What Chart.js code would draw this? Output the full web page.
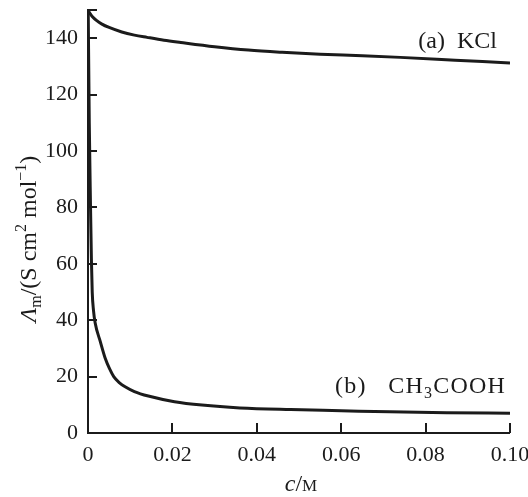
<!DOCTYPE html>
<html><head><meta charset="utf-8">
<script src="https://cdn.jsdelivr.net/npm/chart.js@4"></script>
<style>html,body{margin:0;padding:0;background:#fff}#c{display:block}</style>
</head><body>
<canvas id="c" width="528" height="497"></canvas>
<script>
// Data
const kclConc = [0, 0.0005, 0.001, 0.002, 0.0033, 0.005, 0.008, 0.011, 0.014, 0.018, 0.022, 0.030, 0.038, 0.046, 0.055, 0.065, 0.074, 0.087, 0.100];
const kclMolarCond = [150, 148.7, 147.7, 146.3, 145.0, 143.8, 142.2, 141.1, 140.3, 139.3, 138.5, 137.0, 135.8, 135.0, 134.3, 133.8, 133.2, 132.2, 131.2];
const aceticConc = [0.00005, 0.0003, 0.0006, 0.0008, 0.001, 0.0013, 0.0017, 0.0029, 0.0041, 0.0051, 0.0061, 0.0074, 0.0088, 0.011, 0.0143, 0.0205, 0.027, 0.036, 0.048, 0.06, 0.0715, 0.085, 0.100];
const aceticMolarCond = [150, 110, 80, 62, 50, 43.5, 39, 32.5, 26.4, 22.8, 20, 17.9, 16.4, 14.7, 13.1, 11.1, 9.9, 8.9, 8.3, 7.9, 7.5, 7.2, 7.0];
const xTickValues = [0, 0.02, 0.04, 0.06, 0.08, 0.10];
const xTickLabels = ['0', '0.02', '0.04', '0.06', '0.08', '0.10'];
const yTickValues = [0, 20, 40, 60, 80, 100, 120, 140, 150];
const yTickLabels = ['0', '20', '40', '60', '80', '100', '120', '140', ''];

const INK = '#1b1b1b';
const SERIF = "'Liberation Serif', 'Times New Roman', serif";

function drawRich(ctx, segs, x, y, align) {
  let total = 0;
  segs.forEach(s => { ctx.font = s.font; s.w = ctx.measureText(s.t).width; total += s.w; });
  let cx = align === 'right' ? x - total : align === 'center' ? x - total / 2 : x;
  segs.forEach(s => { ctx.font = s.font; ctx.fillText(s.t, cx, y + (s.dy || 0)); cx += s.w; });
}

const decor = {
  id: 'decor',
  afterDraw(chart) {
    const ctx = chart.ctx;
    const area = chart.chartArea;
    const left = area.left, right = area.right, bottom = area.bottom;
    const xs = chart.scales.x, ys = chart.scales.y;
    ctx.save();
    ctx.fillStyle = INK;
    const x1 = Math.round(xs.getPixelForValue(0.1));
    const y150 = Math.round(ys.getPixelForValue(150));
    const lx = Math.round(left), by = Math.round(bottom);
    // axes
    ctx.fillRect(lx - 1, y150 - 1, 2, by - y150 + 2);
    ctx.fillRect(lx - 1, by - 1, x1 - lx + 1, 2);
    // inward tick marks
    for (let i = 1; i < yTickValues.length; i++) {
      const y = Math.round(ys.getPixelForValue(yTickValues[i]));
      ctx.fillRect(lx, y - 1, 9, 2);
    }
    for (let i = 1; i < xTickValues.length; i++) {
      const x = Math.round(xs.getPixelForValue(xTickValues[i]));
      ctx.fillRect(x - 1, by - 10, 2, 10);
    }

    ctx.textAlign = 'left';
    ctx.textBaseline = 'alphabetic';
    const big = '24px ' + SERIF, small = '16px ' + SERIF;
    drawRich(ctx, [{ t: '(a)  KCl', font: big }], xs.getPixelForValue(0.1) - 13, ys.getPixelForValue(136.6), 'right');
    ctx.letterSpacing = '1.2px';
    drawRich(ctx, [
      { t: '(b)   CH', font: big },
      { t: '3', font: small, dy: 5 },
      { t: 'COOH', font: big }
    ], xs.getPixelForValue(0.1) - 4, ys.getPixelForValue(14.2), 'right');
    ctx.letterSpacing = '0px';

    drawRich(ctx, [
      { t: 'c', font: 'italic 24px ' + SERIF },
      { t: '/', font: big },
      { t: 'M', font: '17px ' + SERIF }
    ], (left + right) / 2 + 2, 491, 'center');

    ctx.translate(36, 239);
    ctx.rotate(-Math.PI / 2);
    drawRich(ctx, [
      { t: 'Λ', font: 'italic 24px ' + SERIF },
      { t: 'm', font: small, dy: 5 },
      { t: '/(S cm', font: big },
      { t: '2', font: small, dy: -10 },
      { t: ' mol', font: big },
      { t: '−1', font: small, dy: -10 },
      { t: ')', font: big }
    ], 0, 0, 'center');
    ctx.restore();
  }
};

new Chart(document.getElementById('c'), {
  type: 'line',
  data: {
    datasets: [
      { label: 'KCl', data: kclConc.map((c, i) => ({ x: c, y: kclMolarCond[i] })) },
      { label: 'CH3COOH', data: aceticConc.map((c, i) => ({ x: c, y: aceticMolarCond[i] })) }
    ]
  },
  options: {
    responsive: false,
    animation: false,
    devicePixelRatio: 1,
    layout: { padding: { top: 10, right: 18, left: 0, bottom: 0 } },
    elements: {
      point: { radius: 0 },
      line: { borderColor: INK, borderWidth: 3, cubicInterpolationMode: 'monotone', fill: false }
    },
    plugins: { legend: { display: false }, tooltip: { enabled: false } },
    scales: {
      x: {
        type: 'linear', min: 0, max: 0.1,
        grid: { display: false, drawTicks: false },
        border: { display: false },
        afterBuildTicks: s => { s.ticks = xTickValues.map(v => ({ value: v })); },
        ticks: {
          font: { family: SERIF, size: 22 }, color: INK, padding: 9,
          maxRotation: 0, autoSkip: false,
          callback: (v, i) => xTickLabels[i]
        },
        afterFit: s => { s.height = 64; s.paddingLeft = 0; s.paddingRight = 0; }
      },
      y: {
        type: 'linear', min: 0, max: 150,
        grid: { display: false, drawTicks: false },
        border: { display: false },
        afterBuildTicks: s => { s.ticks = yTickValues.map(v => ({ value: v })); },
        ticks: {
          font: { family: SERIF, size: 22 }, color: INK, padding: 10,
          autoSkip: false,
          callback: (v, i) => yTickLabels[i]
        },
        afterFit: s => { s.width = 88; s.paddingTop = 0; s.paddingBottom = 0; }
      }
    }
  },
  plugins: [decor]
});
</script>
</body></html>
